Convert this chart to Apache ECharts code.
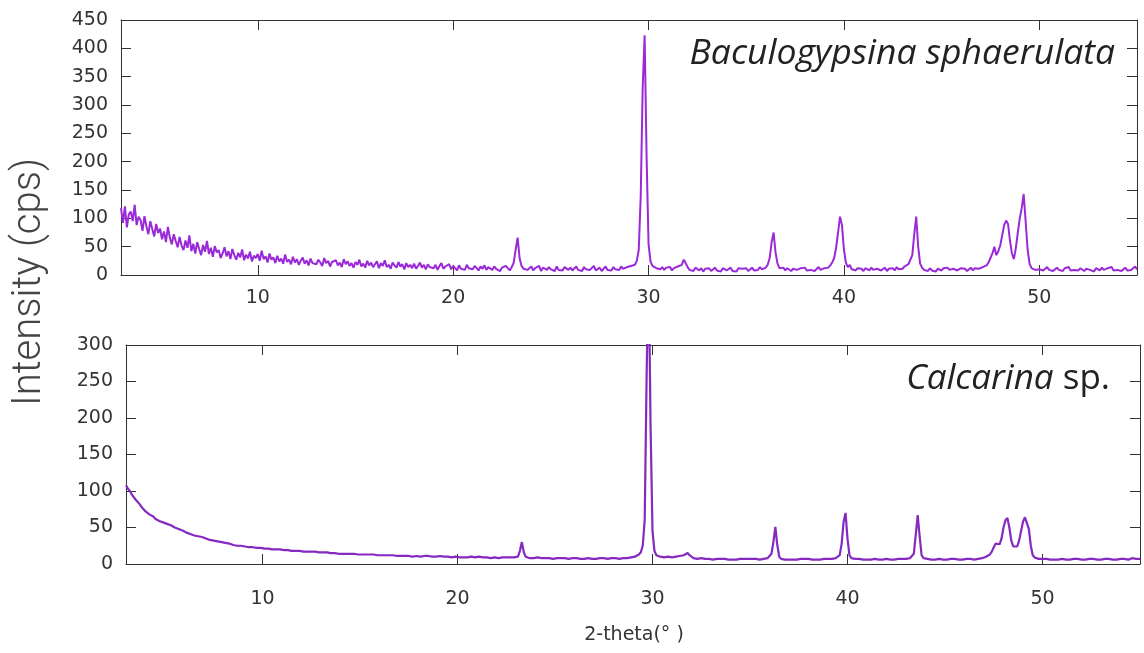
<!DOCTYPE html>
<html><head><meta charset="utf-8">
<script src="https://cdn.jsdelivr.net/npm/echarts@6/dist/echarts.min.js"></script>
<style>html,body{margin:0;padding:0;background:#fff}#c{width:1144px;height:653px}</style>
</head><body><div id="c"></div>
<script>
// 2-theta sampling grid (degrees)
const thetaStart = 3.0;
const thetaStep = 0.1;
const xTicks = [10, 20, 30, 40, 50];
const yTicksTop = [0, 50, 100, 150, 200, 250, 300, 350, 400, 450];
const yTicksBottom = [0, 50, 100, 150, 200, 250, 300];
const topLabel = 'Baculogypsina sphaerulata';
const bottomLabelItalic = 'Calcarina';
const bottomLabelRest = ' sp.';
const yName = 'Intensity (cps)';
const xName = '2-theta(\u00B0 )';

// Intensity (cps), one value per 0.1 deg from 3.0 to 55.0
const baculogypsina = [
118, 92, 121, 84, 107, 112, 95, 124, 88, 103,
97, 78, 104, 86, 72, 95, 81, 68, 90, 74,
82, 63, 77, 58, 85, 66, 54, 72, 60, 49,
67, 52, 44, 61, 48, 70, 42, 55, 38, 58,
46, 35, 53, 41, 60, 37, 48, 32, 51, 40,
44, 30, 38, 49, 33, 42, 28, 46, 35, 27,
39, 31, 45, 26, 36, 29, 41, 24, 34, 30,
37, 25, 43, 28, 33, 22, 38, 27, 31, 21,
34, 24, 29, 20, 36, 23, 27, 19, 32, 22,
28, 18, 25, 31, 20, 26, 17, 29, 21, 24,
19, 27, 22, 16, 30, 21, 25, 15, 23, 20,
26, 17, 22, 14, 28, 19, 24, 16, 21, 13,
23, 18, 27, 15, 20, 13, 25, 17, 22, 14,
19, 24, 12, 21, 16, 26, 14, 18, 11, 22,
17, 13, 23, 15, 19, 10, 21, 14, 18, 12,
20, 11, 16, 22, 13, 18, 10, 19, 14, 17,
12, 18, 9, 16, 21, 11, 15, 13, 19, 10,
16, 12, 8, 17, 11, 14, 9, 18, 12, 15,
10, 16, 13, 8, 15, 11, 17, 9, 14, 12,
9, 15, 11, 14, 7, 13, 10, 16, 12, 8,
14, 22, 45, 66, 30, 16, 11, 14, 9, 12,
15, 8, 12, 10, 16, 7, 13, 11, 9, 14,
10, 13, 7, 15, 9, 12, 8, 14, 11, 9,
13, 8, 11, 15, 9, 12, 7, 14, 10, 13,
9, 12, 16, 8, 11, 13, 7, 10, 15, 9,
12, 8, 14, 10, 13, 9, 15, 11, 8, 14,
12, 16, 13, 18, 25, 45, 140, 330, 423, 210,
55, 24, 16, 19, 12, 15, 10, 14, 9, 13,
11, 14, 8, 12, 10, 15, 12, 18, 27, 21,
14, 9, 12, 7, 13, 10, 8, 12, 6, 11,
9, 12, 7, 10, 13, 8, 11, 6, 12, 9,
8, 11, 13, 7, 10, 6, 12, 9, 11, 8,
12, 7, 10, 13, 8, 11, 9, 14, 10, 12,
13, 18, 30, 58, 75, 40, 20, 12, 9, 13,
8, 12, 10, 7, 11, 14, 9, 6, 12, 10,
13, 8, 11, 9, 12, 7, 10, 14, 9, 11,
12, 15, 13, 17, 22, 30, 48, 75, 103, 88,
45, 22, 14, 18, 10, 13, 8, 12, 9, 11,
7, 12, 10, 8, 13, 9, 6, 11, 14, 8,
10, 13, 7, 11, 9, 12, 8, 14, 10, 12,
11, 15, 13, 19, 22, 35, 72, 103, 50, 20,
13, 9, 11, 7, 12, 8, 10, 6, 11, 9,
8, 12, 10, 13, 9, 7, 11, 14, 8, 10,
12, 9, 11, 7, 10, 13, 8, 12, 9, 11,
10, 14, 12, 17, 22, 30, 38, 50, 35, 42,
52, 70, 88, 96, 90, 60, 38, 28, 48, 75,
100, 118, 143, 95, 45, 20, 12, 15, 9, 12,
10, 13, 8, 11, 14, 9, 12, 7, 10, 13,
9, 11, 7, 12, 10, 14, 8, 11, 9, 12,
8, 12, 10, 7, 11, 13, 9, 10, 6, 12,
11, 8, 13, 9, 7, 12, 10, 14, 8, 11,
9, 12, 7, 10, 13, 8, 11, 9, 12, 15,
10
];

const calcarina = [
108, 103, 100, 95, 93, 88, 85, 82, 78, 76,
72, 71, 68, 67, 65, 62, 62, 59, 59, 57,
56, 55, 53, 53, 51, 50, 49, 48, 46, 46,
45, 43, 43, 41, 41, 39, 39, 38, 37, 37,
36, 35, 35, 33, 34, 32, 32, 31, 30, 30,
29, 29, 28, 28, 27, 26, 27, 25, 26, 25,
25, 24, 25, 23, 24, 23, 23, 22, 23, 22,
22, 21, 22, 21, 21, 20, 21, 20, 20, 20,
20, 19, 20, 19, 19, 18, 19, 18, 19, 18,
18, 17, 18, 17, 17, 17, 16, 17, 16, 16,
16, 16, 15, 16, 15, 15, 16, 15, 15, 14,
15, 14, 15, 14, 14, 14, 13, 14, 14, 13,
14, 13, 14, 13, 13, 13, 12, 13, 13, 12,
13, 12, 13, 12, 12, 12, 11, 12, 12, 11,
12, 11, 12, 11, 12, 11, 11, 10, 11, 11,
11, 10, 11, 11, 10, 11, 10, 10, 11, 10,
10, 11, 10, 10, 9, 10, 10, 9, 10, 10,
10, 9, 10, 9, 10, 9, 9, 10, 9, 9,
9, 10, 9, 9, 8, 9, 9, 8, 9, 9,
9, 8, 9, 9, 8, 9, 8, 9, 8, 9,
9, 10, 18, 30, 16, 10, 9, 8, 9, 8,
8, 9, 8, 8, 9, 8, 7, 8, 8, 7,
8, 8, 7, 8, 7, 8, 8, 7, 7, 8,
7, 8, 7, 7, 8, 7, 7, 8, 7, 7,
8, 7, 7, 8, 7, 8, 7, 7, 8, 8,
7, 8, 8, 7, 8, 8, 9, 8, 9, 9,
10, 10, 11, 13, 16, 25, 60, 260, 420, 190,
45, 18, 12, 10, 10, 9, 9, 9, 10, 9,
9, 10, 10, 10, 11, 11, 12, 14, 15, 12,
10, 8, 8, 7, 7, 8, 7, 7, 6, 7,
7, 6, 7, 7, 6, 7, 6, 7, 7, 6,
7, 6, 7, 6, 6, 7, 6, 7, 6, 7,
6, 7, 6, 7, 7, 6, 7, 7, 8, 8,
9, 14, 30, 51, 26, 10, 7, 7, 6, 7,
6, 7, 6, 7, 6, 6, 7, 6, 7, 6,
7, 6, 6, 7, 6, 7, 6, 6, 7, 7,
7, 7, 7, 8, 8, 9, 12, 28, 58, 70,
35, 12, 8, 7, 7, 6, 7, 6, 6, 7,
6, 7, 6, 6, 7, 6, 6, 7, 6, 6,
7, 6, 6, 7, 6, 6, 7, 6, 7, 7,
7, 7, 8, 9, 14, 40, 67, 38, 12, 8,
6, 7, 6, 6, 7, 6, 6, 7, 6, 6,
7, 6, 6, 7, 6, 7, 6, 6, 7, 6,
6, 7, 6, 7, 7, 6, 7, 7, 8, 8,
9, 10, 11, 13, 17, 23, 28, 30, 27, 35,
50, 60, 63, 50, 32, 24, 22, 24, 32, 45,
58, 64, 66, 48, 25, 12, 9, 8, 7, 7,
7, 6, 7, 6, 6, 7, 6, 7, 6, 6,
7, 6, 6, 7, 6, 6, 7, 6, 7, 6,
6, 7, 6, 6, 7, 6, 7, 6, 6, 7,
6, 7, 7, 6, 7, 6, 6, 7, 6, 7,
7, 6, 7, 7, 6, 7, 8, 7, 7, 8,
7
];

function toPairs(vals) {
  return vals.map((v, i) => [+(thetaStart + i * thetaStep).toFixed(2), v]);
}

const AX = '#333';
const FONT = 'DejaVu Sans';
function xAx(grid, pos, labels, margin) {
  return {
    gridIndex: grid, type: 'value', min: 3, max: 55, position: pos,
    axisLine: { show: true, onZero: false, lineStyle: { color: AX, width: 1 } },
    axisTick: { show: true, inside: true, length: 10, customValues: xTicks, lineStyle: { color: AX, width: 1 } },
    axisLabel: { show: labels, customValues: xTicks, fontSize: 19, color: AX, margin: margin, fontFamily: FONT },
    splitLine: { show: false }
  };
}
function yAx(grid, pos, labels, max, ticks) {
  return {
    gridIndex: grid, type: 'value', min: 0, max: max, interval: 50, position: pos,
    axisLine: { show: true, onZero: false, lineStyle: { color: AX, width: 1 } },
    axisTick: { show: true, inside: true, length: 10, customValues: ticks, lineStyle: { color: AX, width: 1 } },
    axisLabel: { show: labels, customValues: ticks, fontSize: 19, color: AX, margin: 13, fontFamily: FONT },
    splitLine: { show: false }
  };
}

const chart = echarts.init(document.getElementById('c'), null, { renderer: 'canvas' });
chart.setOption({
  animation: false,
  backgroundColor: '#fff',
  grid: [
    { left: 121, top: 20, width: 1016, height: 255 },
    { left: 126, top: 345, width: 1014, height: 219 }
  ],
  xAxis: [xAx(0, 'bottom', true, 14), xAx(0, 'top', false, 8), xAx(1, 'bottom', true, 26), xAx(1, 'top', false, 8)],
  yAxis: [yAx(0, 'left', true, 450, yTicksTop), yAx(0, 'right', false, 450, yTicksTop),
          yAx(1, 'left', true, 300, yTicksBottom), yAx(1, 'right', false, 300, yTicksBottom)],
  series: [
    { type: 'line', xAxisIndex: 0, yAxisIndex: 0, data: toPairs(baculogypsina), showSymbol: false,
      lineStyle: { color: '#9A2AD8', width: 2 }, clip: true },
    { type: 'line', xAxisIndex: 2, yAxisIndex: 2, data: toPairs(calcarina), showSymbol: false,
      lineStyle: { color: '#8529C0', width: 2.2 }, clip: true }
  ],
  graphic: [
    { type: 'text', x: 1115, y: 54, style: { text: topLabel, fontSize: 35.5, fontStyle: 'italic', fontFamily: 'Open Sans', fill: '#222', textAlign: 'right', textVerticalAlign: 'middle' } },
    { type: 'text', x: 1110, y: 379, style: { text: '{i|' + bottomLabelItalic + '}' + bottomLabelRest, fontSize: 35, fontFamily: 'Open Sans', fill: '#222', textAlign: 'right', textVerticalAlign: 'middle',
      rich: { i: { fontSize: 35, fontStyle: 'italic', fontFamily: 'Open Sans', fill: '#222' } } } },
    { type: 'text', x: 30, y: 282, rotation: Math.PI / 2, style: { text: yName, fontSize: 40, fontFamily: 'Roboto', fontWeight: 300, fill: '#444', textAlign: 'center', textVerticalAlign: 'middle' } },
    { type: 'text', x: 634, y: 635, style: { text: xName, fontSize: 19, fontFamily: FONT, fill: '#333', textAlign: 'center', textVerticalAlign: 'middle' } }
  ]
});
</script></body></html>
